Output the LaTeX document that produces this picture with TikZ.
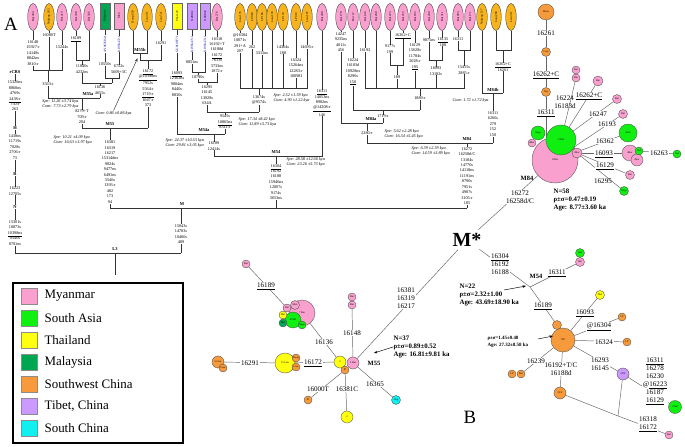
\documentclass[tikz,border=0pt]{standalone}
\usepackage{fontspec}
\setmainfont{Liberation Serif}
\usetikzlibrary{shapes.geometric, arrows.meta}
\pgfdeclarelayer{bg}
\pgfsetlayers{bg,main}

\definecolor{mya}{HTML}{F9A0CF}
\definecolor{sas}{HTML}{10F010}
\definecolor{tha}{HTML}{FFFF10}
\definecolor{mal}{HTML}{00A651}
\definecolor{swc}{HTML}{F79A3C}
\definecolor{lor}{HTML}{F8B41E}
\definecolor{tib}{HTML}{CC99FF}
\definecolor{sch}{HTML}{10F0F0}

\begin{document}
\begin{tikzpicture}[x=0.85pt, y=-0.85pt,
  every node/.style={inner sep=0.3pt},
  leaf/.style={ellipse, draw=black!80, line width=0.3pt, rotate=90, minimum width=23pt, minimum height=9pt, inner sep=0pt, font=\fontsize{2.6}{3}\selectfont},
  leafbox/.style={rectangle, draw=black!60, line width=0.3pt, rotate=90, minimum width=22pt, minimum height=9pt, inner sep=0pt, font=\fontsize{2.6}{3}\selectfont},
  acc/.style={rotate=90, fill=white, text=blue!70!black, font=\fontsize{2.8}{3}\selectfont},
  mut/.style={fill=white, align=center, font=\fontsize{3.6}{4.6}\selectfont},
  hg/.style={fill=white, inner sep=0.5pt, font=\fontsize{3.8}{4.4}\selectfont\bfseries},
  age/.style={anchor=west, align=left, font=\fontsize{3.6}{4.6}\selectfont\itshape},
  tline/.style={draw=black!80, line width=0.35pt},
  hap/.style={circle, draw=black!70, line width=0.3pt, inner sep=0pt, font=\fontsize{2.2}{2.5}\selectfont, minimum size=#1*0.85pt},
  net/.style={align=center, font=\fontsize{6}{6.8}\selectfont},
  onl/.style={net, fill=white, inner sep=0.6pt},
  nline/.style={draw=black!60, line width=0.4pt},
  stat/.style={anchor=west, align=left, font=\fontsize{5.8}{7}\selectfont\bfseries},
  swatch/.style={draw=black!45, line width=0.6pt, minimum width=13.6pt, minimum height=13.6pt},
  arr/.style={-{Stealth[length=3pt, width=2.2pt]}, line width=0.4pt}]
\useasboundingbox (0,0) rectangle (685,447);

% Panel labels
\node[font=\fontsize{16}{16}\selectfont] (pa) at (11,24) {A};
\node[font=\fontsize{16}{16}\selectfont] (pb) at (470,417) {B};

% Leaves M55
\node[leaf, fill=mya] (l1) at (33,17) {Bur 304};
\node[leaf, fill=lor] (l2) at (49,17) {Nujiang 263};
\node[leaf, fill=mya] (l3) at (62,17) {Bur 419};
\node[leaf, fill=mya] (l4) at (76,17) {Bur 348};
\node[leaf, fill=mya] (l5) at (89,17) {Bur 346};
\node[leafbox, fill=mal] (l6) at (105,16) {Malaysia};
\node[leafbox, fill=mya] (l7) at (119,16) {Mon};
\node[leaf, fill=lor] (l8) at (133,17) {Dong 039};
\node[leaf, fill=lor] (l9) at (147,17) {Lisu 411};
\node[leaf, fill=lor] (l10) at (161,17) {Lisu 541};
% Leaves M54
\node[leafbox, fill=tha] (l11) at (177,16) {Thai 129};
\node[leafbox, fill=tib] (l12) at (192,16) {XZ0812};
\node[leafbox, fill=tib] (l13) at (205,16) {XZ0842};
\node[leaf, fill=mya] (l14) at (217,17) {Bur 276};
\node[leaf, fill=lor] (l15) at (240,17) {Lisu 176};
\node[leaf, fill=lor] (l16) at (252,17) {LP083};
\node[leaf, fill=lor] (l17) at (262,17) {LP166};
\node[leaf, fill=lor] (l18) at (272,17) {Lisu 193};
\node[leaf, fill=lor] (l19) at (283,17) {LP133};
\node[leaf, fill=lor] (l20) at (296,17) {LP019};
\node[leaf, fill=lor] (l21) at (307,17) {Lisu 187};
\node[leaf, fill=mya] (l22) at (322,17) {Bur 408};
% Leaves M84
\node[leaf, fill=mya] (l23) at (341,17) {Bur 178};
\node[leaf, fill=mya] (l24) at (353,17) {Bur 12};
\node[leaf, fill=mya] (l25) at (365,17) {Bur 146};
\node[leaf, fill=mya] (l26) at (376,17) {Bur 268};
\node[leaf, fill=mya] (l27) at (390,17) {Bur 223};
\node[leaf, fill=mya] (l28) at (403,17) {Bur 253};
\node[leaf, fill=mya] (l29) at (415,17) {Bur 185};
\node[leaf, fill=mya] (l30) at (429,17) {Bur 290};
\node[leaf, fill=mya] (l31) at (442,17) {Bur 311};
\node[leaf, fill=mya] (l32) at (458,17) {Bur 093};
\node[leaf, fill=mya] (l33) at (470,17) {Bur 171};
\node[leaf, fill=lor] (l34) at (482,17) {Nujiang 127};
\node[leaf, fill=lor] (l35) at (496,17) {Lisu 208};
\node[leaf, fill=lor] (l36) at (511,17) {Lisu 311};

% GenBank numbers
\node[acc] (g1) at (105,44) {AY963583.1};
\node[acc] (g2) at (119,44) {KJ956472.1};
\node[acc] (g3) at (177,44) {GU810877.1};
\node[acc] (g4) at (192,44) {KJ956473.1};
\node[acc] (g5) at (205,44) {KJ956474.1};

% Junctions
\coordinate (a1) at (48,70);
\coordinate (a2) at (82,60);
\coordinate (a3) at (112,78);
\coordinate (a4) at (100,83);
\coordinate (m55a) at (82,98);
\coordinate (m55b) at (140,53);
\coordinate (a5) at (148,60);
\coordinate (m55) at (110,128);
\coordinate (b1) at (198,72);
\coordinate (b2) at (207,82);
\coordinate (b3) at (259,88);
\coordinate (b4) at (225,112);
\coordinate (m54a) at (214,134);
\coordinate (m54) at (276,156);
\coordinate (c1) at (397,65);
\coordinate (c2) at (436,60);
\coordinate (c3) at (464,50);
\coordinate (c4) at (420,88);
\coordinate (c5) at (383,110);
\coordinate (m84a) at (367,123);
\coordinate (c6) at (503,50);
\coordinate (m84b) at (493,93);
\coordinate (m84) at (467,143);
\coordinate (mm) at (181,208);
\coordinate (l3c) at (115,253);
\coordinate (root) at (115,275);

% Mutations M55
\node[mut] (u1) at (33,53) {16148\\15927-r\\14148s\\8842ns\\3810-r};
\node[mut] (u2) at (49,35) {16080T};
\node[mut] (u3) at (62,47) {15244s};
\node[mut] (u4) at (76,39) {\underline{16189}};
\node[mut] (u5) at (82,69) {11840s\\4232ns};
\node[mut] (u6) at (105,64) {10550s};
\node[mut] (u7) at (119,69) {6752s\\5609+3C};
\node[mut] (u8) at (100,90) {16136\\4655s};
\node[mut] (u9) at (48,84) {3563-t};
\node[hg] (h1) at (88,94.5) {M55a};
\node[age, anchor=east] (s1) at (79,104) {Spe: 11.26 ±3.74 kya\\Com: 7.73 ±2.79 kya};
\node[mut] (u10) at (82,117) {8279+T\\709-r\\204};
\node[hg] (h2) at (110,124.5) {M55};
\node[hg] (h3) at (140,49.5) {M55b};
\node[mut] (u11) at (161,43) {16291};
\node[mut] (u12) at (148,88) {\underline{16172}\\\underline{@10398ns}\\7952s\\5564-t\\\underline{1719-r}\\1047-r\\373};
\node[age] (s2) at (95,113) {Com: 0.86 ±0.86 kya};
\node[mut] (u13) at (110,172) {16381\\16319\\16217\\15314dns\\9824s\\9477ns\\6491ns\\3546s\\1393-r\\482\\173\\94};
\node[age] (s3) at (53,140) {Spe: 10.21 ±4.09 kya\\Com: 16.63 ±3.97 kya};
\node[hg] (h4) at (182,204.5) {M};
\node[mut] (u14) at (181,234) {15043s\\14783s\\10400s\\489};
\node[hg] (h5) at (115,249.5) {L3};
% rCRS column
\node[hg] (h6) at (15,72) {rCRS};
\node[mut] (u15) at (15,96) {15326ns\\8860ns\\4769s\\\underline{2438-r}\\750-r\\263};
\node[hg] (h7) at (15,128) {H};
\node[mut] (u16) at (15,147) {1438ns\\11719s\\7028s\\2706-r\\73};
\node[hg] (h8) at (15,174) {R};
\node[mut] (u17) at (15,191) {16223\\12705s};
\node[hg] (h9) at (15,207) {N};
\node[mut] (u18) at (15,233) {15301s\\10873s\\\underline{10398ns}\\9540s\\8701ns};

% Mutations M54
\node[mut] (u19) at (177,84) {\underline{16093}\\12362ns\\9804ns\\8440s\\8830s};
\node[mut] (u20) at (192,62) {8851ns};
\node[mut] (u21) at (198,77) {10790s};
\node[mut] (u22) at (217,55) {16318\\16192+T\\16188d\\\underline{16172}\\7613s\\3733ns\\1872-r};
\node[mut] (u23) at (207,95) {16295\\16145\\13028s\\634A};
\node[mut] (u24) at (240,43) {@16384\\10071s\\291+A\\207};
\node[mut] (u25) at (252,47) {262};
\node[mut] (u26) at (262,53) {3315ns};
\node[mut] (u27) at (283,50) {14364s\\188};
\node[mut] (u28) at (296,68) {16324\\15264ns\\12283-r\\10098I};
\node[mut] (u29) at (307,47) {14695-r};
\node[mut] (u30) at (259,100) {13674s\\@9574s};
\node[age] (s4) at (273,98) {Spe: 2.52 ±1.59 kya\\Com: 4.90 ±1.22 kya};
\node[mut] (u31) at (225,122) {9545s\\\underline{10865ns}\\8311-r};
\node[age] (s5) at (238,122) {Spe: 17.34 ±8.42 kya\\Com: 11.89 ±5.73 kya};
\node[hg] (h10) at (204,130.5) {M54a};
\node[age] (s6) at (165,143) {Spe: 24.37 ±10.53 kya\\Com: 29.81 ±3.05 kya};
\node[mut] (u32) at (214,146) {16189\\12414s};
\node[hg] (h11) at (276,152.5) {M54};
\node[mut] (u33) at (276,182) {\underline{16304}\\16192\\16188\\15946ns\\12007s\\9174s\\3653ns};
\node[age] (s7) at (286,162) {Spe: 28.58 ±12.66 kya\\Com: 23.26 ±5.73 kya};
\node[mut] (u34) at (322,103) {\underline{16311}\\14053ns\\8982ns\\\underline{@14308-r}\\146};

% Mutations M84
\node[mut] (u35) at (341,42) {14247\\9235ns\\4011s\\456};
\node[mut] (u36) at (353,72) {16224\\16183d\\10928ns\\8290s\\\underline{150}};
\node[mut] (u37) at (365,50) {16193};
\node[mut] (u38) at (390,49) {9177s\\199};
\node[mut] (u39) at (403,36) {\underline{16262+C}};
\node[mut] (u40) at (397,77) {189};
\node[mut] (u41) at (415,57) {16129\\15628s\\11784s\\2028-r\\\underline{195}};
\node[mut] (u42) at (429,40) {9875ns};
\node[mut] (u43) at (443,42) {\underline{16135}\\188};
\node[mut] (u44) at (436,71) {16093\\13182s};
\node[mut] (u45) at (458,39) {16311};
\node[mut] (u46) at (464,70) {15415s\\2885-r};
\node[mut] (u47) at (420,98) {1889-r};
\node[mut] (u48) at (383,116.5) {1719-r};
\node[hg] (h12) at (371,119.5) {M84a};
\node[mut] (u49) at (367,133) {2280-r};
\node[age] (s8) at (384,134) {Spe: 5.62 ±2.28 kya\\Com: 16.34 ±5.45 kya};
\node[mut] (u50) at (503,67) {\underline{16262+C}\\16261};
\node[hg] (h13) at (493,89.5) {M84b};
\node[age] (s9) at (452,100) {Com: 1.72 ±1.72 kya};
\node[mut] (u51) at (493,124) {16311\\6266s\\279\\152\\150};
\node[hg] (h14) at (467,139.5) {M84};
\node[mut] (u52) at (467,176) {16272\\16258d/C\\13184s\\14770s\\14118ns\\11191ns\\8790s\\7951s\\4907s\\3105-r\\185};
\node[age] (s10) at (411,151) {Spe: 6.39 ±2.59 kya\\Com: 14.59 ±3.89 kya};

\draw[arr, black!80, shorten >=5pt] (s2.north) -- (m55b);

% Legend
\node[draw, line width=0.9pt, minimum width=144.5pt, minimum height=136pt] (leg) at (98,363) {};
\foreach \c/\t [count=\i] in {mya/Myanmar, sas/South Asia, tha/Thailand, mal/Malaysia, swc/Southwest China, tib/{Tibet, China}, sch/South China} {
  \node[swatch, fill=\c] (sw\i) at (29,{296+(\i-1)*22}) {};
  \node[anchor=west, font=\fontsize{11}{11}\selectfont] (lt\i) at (44,{296+(\i-1)*22}) {\t};
}

% Network M84
\node[font=\fontsize{17}{17}\selectfont\bfseries] (ms) at (467,240) {M*};
\node[hap=16, fill=swc] (kun) at (546,12) {8Kun};
\node[hap=9, fill=swc] (o2) at (546,52) {Lisu};
\node[hap=9, fill=swc] (o3) at (546,92) {Nuj};
\node[hap=46, fill=mya] (bp) at (555,160) {11Bur};
\node[hap=30, fill=sas] (bg) at (561,140) {13Ind};
\node[hap=14, fill=sas] (sg) at (538,133) {Naga};
\node[hap=8, fill=mya] (sp4) at (532,143) {4Bur};
\node[hap=10, fill=mya] (s2b) at (577,153) {2Bur};
\node[hap=8, fill=mya] (p1) at (576,70) {Bur};
\node[hap=8, fill=mya] (p2) at (576,78) {Bur};
\node[hap=10, fill=mya] (p3) at (598,81) {Bur};
\node[hap=9, fill=mya] (p4) at (617,99) {Bur};
\node[hap=9, fill=mya] (p5) at (623,114) {Bur};
\node[hap=18, fill=sas] (g9) at (628,133) {4Ind};
\node[hap=16, fill=mya] (pc) at (630,153) {4Bur};
\node[hap=12, fill=mya] (pc2) at (637,160) {2Bur};
\node[hap=8, fill=sas] (pg) at (639,151) {Ind};
\node[hap=8, fill=sas] (g263) at (677,154) {Ind};
\node[hap=9, fill=mya] (p129) at (630,175) {Bur};
\node[hap=9, fill=sas] (g295) at (624,191) {Naga};
\node[onl] (n1) at (546,33) {16261};
\node[onl] (n2) at (546,75) {\underline{16262+C}};
\node[onl] (n3) at (546,113) {\underline{16311}};
\node[net] (n4) at (565,102) {16224\\16183d};
\node[onl] (n5) at (589,96) {\underline{16262+C}};
\node[onl] (n6) at (598,114) {16247};
\node[onl] (n7) at (607,124) {16193};
\node[onl] (n8) at (605,141) {16362};
\node[onl] (n9) at (604,154) {\underline{16093}};
\node[onl] (n10) at (659,153) {16263};
\node[onl] (n11) at (605,166) {\underline{16129}};
\node[net] (n12) at (603,181) {16295};
\node[font=\fontsize{5.5}{6}\selectfont\bfseries] (h15) at (527,178) {M84};
\node[onl] (n13) at (520,197) {16272\\16258d/C};
\node[stat] (st1) at (553,200) {N=58\\ρ±σ=0.47±0.19\\Age: 8.77±3.60 ka};

% Network M55
\node[hap=8, fill=mya] (pp1) at (352,297) {Bur};
\node[hap=8, fill=mya] (pp2) at (352,305) {Bur};
\node[hap=26, fill=mya] (c7) at (302,313) {7 Bur};
\node[hap=8, fill=mya] (cb) at (287,308) {Bur};
\node[hap=9, fill=mya] (cm) at (295,305) {Mon};
\node[hap=16, fill=sas] (ci) at (293,320) {4 IND};
\node[hap=8, fill=tha] (cy) at (283,315) {Mal};
\node[hap=8, fill=mal] (cd) at (283,323) {Mal};
\node[hap=8, fill=sas] (cn) at (302,325) {Naga};
\node[hap=8, fill=mya] (b189) at (246,264) {Bur};
\node[hap=12, fill=swc] (lis2) at (218,362) {2 Lisu};
\node[hap=8, fill=swc] (lis1) at (223,368) {Lisu};
\node[hap=20, fill=tha] (y15) at (285,363) {15 Lisu};
\node[hap=8, fill=swc] (yo1) at (296,358) {Dong};
\node[hap=8, fill=swc] (yo2) at (296,367) {Lisu};
\node[hap=12, fill=tha] (m55y) at (340,362) {2};
\node[hap=12, fill=mya] (m55p) at (353,363) {2 Bur};
\node[hap=8, fill=swc] (m55o) at (345,370) {IP};
\node[hap=8, fill=swc] (ip) at (308,400) {IP};
\node[hap=12, fill=tha] (y2) at (347,417) {2};
\node[hap=9, fill=sch] (cyan) at (396,400) {Jing};
\node[onl] (n14) at (406,298) {16381\\16319\\16217};
\node[onl] (n15) at (352,333) {16148};
\node[onl] (n16) at (324,342) {16136};
\node[onl] (n17) at (266,286) {\underline{16189}};
\node[onl] (n18) at (313,363) {\underline{16172}};
\node[onl] (n19) at (250,363) {16291};
\node[onl] (n20) at (318,389) {16000T};
\node[onl] (n21) at (347,389) {16381C};
\node[onl] (n22) at (375,384) {16365};
\node[font=\fontsize{5.5}{6}\selectfont\bfseries] (h16) at (374,363) {M55};
\node[stat] (st2) at (393,347) {N=37\\ρ±σ=0.89±0.52\\Age: 16.81±9.81 ka};
\coordinate (t55) at (374,353);

% Network M54
\coordinate (m54c) at (530,287);
\coordinate (mv) at (618,416);
\node[hap=9, fill=sas] (s311g) at (580,253) {Ind};
\node[hap=9, fill=mya] (s311) at (580,262) {Bur};
\node[hap=24, fill=swc] (lp7) at (563,340) {7LP};
\node[hap=9, fill=swc] (lpt) at (557,325) {};
\node[hap=9, fill=tha] (thai) at (600,295) {Thai};
\node[hap=8, fill=swc] (lpa) at (622,317) {LP};
\node[hap=8, fill=swc] (lpb) at (627,342) {LP};
\node[hap=12, fill=tib] (tib2) at (623,374) {2Tib};
\node[hap=8, fill=swc] (lpc) at (512,374) {LP};
\node[hap=8, fill=swc] (bai) at (521,374) {Bai};
\node[hap=12, fill=swc] (ly3) at (560,393) {3 LY};
\node[hap=8, fill=mya] (bur1) at (669,435) {Bur};
\node[hap=13, fill=sas] (ind2) at (675,407) {2 Ind};
\node[onl] (n23) at (500,264) {\underline{16304}\\16192\\16188};
\node[font=\fontsize{5.5}{6}\selectfont\bfseries] (h17) at (536,276) {M54};
\node[onl] (n24) at (557,273) {\underline{16311}};
\node[onl] (n25) at (543,306) {\underline{16189}};
\node[onl] (n26) at (585,313) {\underline{16093}};
\node[onl] (n27) at (599,327) {\underline{@16304}};
\node[onl] (n28) at (604,342) {16324};
\node[onl] (n29) at (600,364) {16293\\16145};
\node[onl] (n30) at (536,361) {16239};
\node[onl] (n31) at (561,369) {16192+T/C\\16188d};
\node[onl] (n32) at (648,424) {16318\\\underline{16172}};
\node[onl] (n33) at (655,381) {\underline{16311}\\16278\\16230\\@\underline{16223}\\16187\\\underline{16129}};
\node[stat] (st3) at (459,295) {N=22\\ρ±σ=2.32±1.00\\Age: 43.69±18.90 ka};
\node[stat, font=\fontsize{4.2}{5.4}\selectfont\bfseries] (st4) at (487,342) {ρ±σ=1.45±0.48\\Age: 27.32±8.58 ka};
\coordinate (f54) at (504,290);
\coordinate (t54) at (526,286);
\coordinate (f54b) at (538,339);
\coordinate (t54b) at (553,336);

% Arrows to the statistics
\draw[arr] (st2.west) -- (t55);
\draw[arr] (f54) -- (t54);
\draw[arr] (f54b) -- (t54b);

\begin{pgfonlayer}{bg}
% Tree M55
\draw[tline] (l1) -- (l1 |- a1) -- (l3 |- a1) -- (l3);
\draw[tline] (l2) -- (l2 |- a1);
\draw[tline] (a1) -- (a1 |- m55a);
\draw[tline] (l4) -- (l4 |- a2) -- (l5 |- a2) -- (l5);
\draw[tline] (a2) -- (a2 |- a4);
\draw[tline] (l6) -- (l6 |- a3) -- (l7 |- a3) -- (l7);
\draw[tline] (a3) -- (a3 |- a4);
\draw[tline] (a2 |- a4) -- (a3 |- a4);
\draw[tline] (a4) -- (a4 |- m55a);
\draw[tline] (a1 |- m55a) -- (a4 |- m55a);
\draw[tline] (m55a) -- (m55a |- m55);
\draw[tline] (l8) -- (l8 |- m55b) -- (l9 |- m55b) -- (l9);
\draw[tline] (m55b) -- (m55b |- a5) -- (l10 |- a5) -- (l10);
\draw[tline] (a5) -- (a5 |- m55);
\draw[tline] (m55a |- m55) -- (a5 |- m55);
\draw[tline] (m55) -- (m55 |- mm);
% Tree M54
\draw[tline] (l12) -- (l12 |- b1) -- (l13 |- b1) -- (l13);
\draw[tline] (b1) -- (b1 |- b2) -- (l14 |- b2) -- (l14);
\draw[tline] (b2) -- (b2 |- b4);
\draw[tline] (l15) -- (l15 |- b3) -- (l21 |- b3) -- (l21);
\foreach \n in {l16,l17,l18,l19,l20} \draw[tline] (\n) -- (\n |- b3);
\draw[tline] (b3) -- (b3 |- b4);
\draw[tline] (b2 |- b4) -- (b3 |- b4);
\draw[tline] (b4) -- (b4 |- m54a);
\draw[tline] (l11) -- (l11 |- m54a) -- (b4 |- m54a);
\draw[tline] (m54a) -- (m54a |- m54);
\draw[tline] (m54a |- m54) -- (l22 |- m54) -- (l22);
\draw[tline] (m54) -- (m54 |- mm);
% Tree M84
\draw[tline] (l27) -- (l27 |- c1) -- (l28 |- c1) -- (l28);
\draw[tline] (l30) -- (l30 |- c2) -- (l31 |- c2) -- (l31);
\draw[tline] (l32) -- (l32 |- c3) -- (l33 |- c3) -- (l33);
\draw[tline] (l25) -- (l25 |- c4) -- (c3 |- c4) -- (c3);
\foreach \n in {l26,c1,l29,c2} \draw[tline] (\n) -- (\n |- c4);
\draw[tline] (c4) -- (c4 |- c5);
\draw[tline] (l24) -- (l24 |- c5) -- (c4 |- c5);
\draw[tline] (c5) -- (c5 |- m84a);
\draw[tline] (l23) -- (l23 |- m84a) -- (c5 |- m84a);
\draw[tline] (m84a) -- (m84a |- m84);
\draw[tline] (l35) -- (l35 |- c6) -- (l36 |- c6) -- (l36);
\draw[tline] (c6) -- (c6 |- m84b);
\draw[tline] (l34) -- (l34 |- m84b) -- (c6 |- m84b);
\draw[tline] (m84b) -- (m84b |- m84);
\draw[tline] (m84a |- m84) -- (m84b |- m84);
\draw[tline] (m84) -- (m84 |- mm);
% M, L3
\draw[tline] (m55 |- mm) -- (m84 |- mm);
\draw[tline] (mm) -- (mm |- l3c);
\draw[tline] (h6) -- (h6 |- l3c) -- (mm |- l3c);
\draw[tline] (l3c) -- (root);

% Network links
\draw[nline] (kun) -- (o2) -- (o3) -- (o3 |- bg);
\draw[nline] (bg) -- (p2);
\draw[nline] (bg) -- (p3);
\draw[nline] (bg) -- (p4);
\draw[nline] (bp) -- (p5);
\draw[nline] (bp) -- (g9);
\draw[nline] (s2b) -- (pc);
\draw[nline] (pg) -- (g263);
\draw[nline] (s2b) -- (p129);
\draw[nline] (s2b) -- (g295);
\draw[nline, shorten <=4pt] (ms) -- (bp);
\draw[nline, shorten <=3pt] (ms) -- (m55p);
\draw[nline, shorten <=3pt] (ms) -- (m54c);
\draw[nline] (m55p) -- (pp2);
\draw[nline] (m55y) -- (c7);
\draw[nline] (cb) -- (b189);
\draw[nline] (m55y) -- (y15);
\draw[nline] (y15) -- (lis2);
\draw[nline] (m55o) -- (ip);
\draw[nline] (m55o) -- (y2);
\draw[nline] (m55p) -- (cyan);
\draw[nline] (m54c) -- (s311);
\draw[nline] (m54c) -- (lpt);
\draw[nline] (lp7) -- (thai);
\draw[nline] (lp7) -- (lpa);
\draw[nline] (lp7) -- (lpb);
\draw[nline] (lp7) -- (tib2);
\draw[nline] (lp7) -- (bai);
\draw[nline] (lp7) -- (ly3);
\draw[nline] (ly3) -- (mv) -- (bur1);
\draw[nline] (tib2) -- (mv);
\draw[nline] (tib2) -- (ind2);
\end{pgfonlayer}
\end{tikzpicture}
\end{document}
